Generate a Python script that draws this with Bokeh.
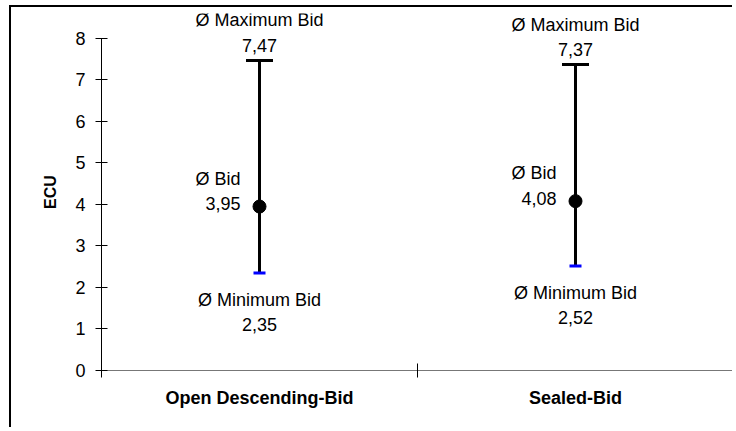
from bokeh.plotting import figure
from bokeh.models import FixedTicker, Range1d, ColumnDataSource
from bokeh.core.properties import value
from bokeh.embed import file_html
from bokeh.resources import INLINE

categories = ["Open Descending-Bid", "Sealed-Bid"]
mean_bid = [3.95, 4.08]
max_bid = [7.47, 7.37]
min_bid = [2.35, 2.52]
y_ticks = [0, 1, 2, 3, 4, 5, 6, 7, 8]

def fmt(v):
    return f"{v:.2f}".replace(".", ",")

xs = [i + 0.5 for i in range(len(categories))]
src = ColumnDataSource(dict(
    x=xs, mean=mean_bid, hi=max_bid, lo=min_bid,
    mean_lbl=[fmt(v) for v in mean_bid],
    hi_lbl=[fmt(v) for v in max_bid],
    lo_lbl=[fmt(v) for v in min_bid],
))

FONT = "Liberation Sans"

p = figure(width=723, height=422, x_range=Range1d(0, len(categories)), y_range=Range1d(0, 8.6),
           output_backend="svg", toolbar_location=None,
           min_border_left=90, min_border_right=1, min_border_top=6, min_border_bottom=59)
p.grid.visible = False
p.outline_line_color = None
p.background_fill_color = "white"
p.border_fill_color = "white"
p.styles = {"border-left": "2px solid black", "border-top": "2px solid black",
            "margin-left": "9px", "margin-top": "5px"}

# x axis
xa = p.xaxis[0]
xa.ticker = FixedTicker(ticks=xs, minor_ticks=[float(i) for i in range(len(categories) + 1)])
xa.major_label_overrides = {x: c for x, c in zip(xs, categories)}
xa.major_tick_in = 0
xa.major_tick_out = 0
xa.minor_tick_in = 7
xa.minor_tick_out = 7
xa.minor_tick_line_color = "black"
xa.axis_line_color = "#777777"
xa.major_label_text_font = FONT
xa.major_label_text_font_size = "18px"
xa.major_label_text_font_style = "bold"
xa.major_label_text_color = "black"
xa.major_label_standoff = 10

# y axis
ya = p.yaxis[0]
ya.ticker = FixedTicker(ticks=y_ticks, minor_ticks=[])
ya.bounds = (0, 8)
ya.major_tick_in = 6
ya.major_tick_out = 6
ya.major_tick_line_color = "black"
ya.axis_line_color = "black"
ya.major_label_text_font = FONT
ya.major_label_text_font_size = "18px"
ya.major_label_text_color = "black"
ya.major_label_standoff = 10
ya.axis_label = "ECU"
ya.axis_label_text_font = FONT
ya.axis_label_text_font_size = "16px"
ya.axis_label_text_font_style = "bold"
ya.axis_label_text_color = "black"
ya.axis_label_standoff = 13

# error bars
p.segment(x0="x", y0="lo", x1="x", y1="hi", source=src, line_color="black", line_width=3)
p.scatter(x="x", y="hi", source=src, marker="dash", size=27, line_color="black", line_width=3)
p.scatter(x="x", y="lo", source=src, marker="dash", size=12, line_color="#0000ff", line_width=3)
p.scatter(x="x", y="mean", source=src, marker="circle", size=13, fill_color="black", line_color="black")

common = dict(source=src, text_font=value(FONT), text_font_size="18px", text_color="black",
              text_baseline="middle")
# max labels
p.text(x="x", y="hi", text=value("Ø Maximum Bid"), text_align="center", y_offset=-40, **common)
p.text(x="x", y="hi", text="hi_lbl", text_align="center", y_offset=-15, **common)
# min labels
p.text(x="x", y="lo", text=value("Ø Minimum Bid"), text_align="center", y_offset=27, **common)
p.text(x="x", y="lo", text="lo_lbl", text_align="center", y_offset=52, **common)
# mean labels
p.text(x="x", y="mean", text=value("Ø Bid"), text_align="right", x_offset=-19, y_offset=-28, **common)
p.text(x="x", y="mean", text="mean_lbl", text_align="right", x_offset=-19, y_offset=-3, **common)

open("out.html", "w").write(file_html(p, INLINE))
